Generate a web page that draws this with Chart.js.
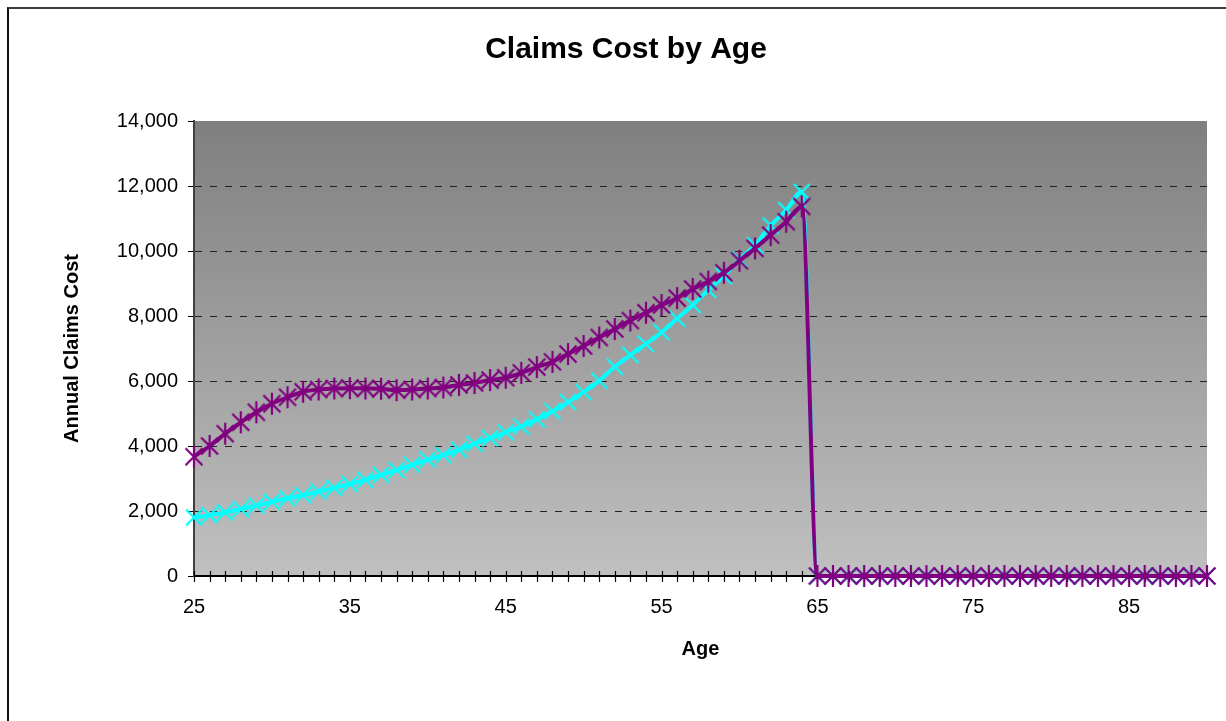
<!DOCTYPE html>
<html>
<head>
<meta charset="utf-8">
<script src="https://cdn.jsdelivr.net/npm/chart.js@4/dist/chart.umd.min.js"></script>
<style>
  html, body { margin: 0; padding: 0; background: #fff; overflow: hidden; }
  #wrap { position: relative; width: 1226px; height: 721px; overflow: hidden; }
  #frame { position: absolute; left: 7px; top: 7px; width: 1400px; height: 900px;
           border-top: 2px solid #3a3a3a; border-left: 2px solid #111; }
  canvas { position: absolute; left: 0; top: 0; }
</style>
</head>
<body>
<div id="wrap">
  <div id="frame"></div>
  <canvas id="c" width="1252" height="721"></canvas>
</div>
<script>
// ---- data ----
const ages = [];
for (let a = 25; a <= 90; a++) ages.push(String(a));

const purpleCost = [
  3670, 4000, 4380, 4730, 5040, 5300, 5500, 5670, 5740, 5770, // 25-34
  5780, 5770, 5760, 5720, 5740, 5770, 5800, 5880, 5940, 6030, // 35-44
  6100, 6250, 6430, 6590, 6830, 7080, 7340, 7600, 7860, 8100, // 45-54
  8340, 8550, 8830, 9060, 9330, 9700, 10080, 10490, 10900, 11370, // 55-64
  0, 0, 0, 0, 0, 0, 0, 0, 0, 0, // 65-74
  0, 0, 0, 0, 0, 0, 0, 0, 0, 0, // 75-84
  0, 0, 0, 0, 0, 0              // 85-90
];
const cyanCost = [
  1800, 1870, 1960, 2060, 2170, 2280, 2390, 2490, 2600, 2710, // 25-34
  2830, 2960, 3110, 3260, 3420, 3580, 3720, 3890, 4070, 4240, // 35-44
  4420, 4600, 4820, 5070, 5350, 5660, 6010, 6440, 6800, 7140, // 45-54
  7500, 7920, 8340, 8800, 9230, 9740, 10180, 10780, 11260, 11820, // 55-64
  0, 0, 0, 0, 0, 0, 0, 0, 0, 0,
  0, 0, 0, 0, 0, 0, 0, 0, 0, 0,
  0, 0, 0, 0, 0, 0
];
const yTicks = [0, 2000, 4000, 6000, 8000, 10000, 12000, 14000];
const xLabelEvery = 10;

// ---- marker glyphs ----
function glyph(color, kind) {
  const s = 26, c = s / 2;
  const cv = document.createElement('canvas');
  cv.width = s; cv.height = s;
  const g = cv.getContext('2d');
  g.strokeStyle = color; g.lineWidth = 2.2; g.lineCap = 'butt';
  const d = kind === 'star' ? 8.5 : 8;
  g.beginPath();
  g.moveTo(c - d, c - d); g.lineTo(c + d, c + d);
  g.moveTo(c + d, c - d); g.lineTo(c - d, c + d);
  if (kind === 'star') { g.moveTo(c, c - 11); g.lineTo(c, c + 11); }
  g.stroke();
  return cv;
}
const purpleMark = glyph('#800080', 'star');
const cyanMark = glyph('#00FFFF', 'x');

const FONT = "'Liberation Sans', Arial, Helvetica, sans-serif";
Chart.defaults.font.family = FONT;
Chart.defaults.color = '#000';

const bgPlugin = {
  id: 'plotBg',
  beforeDraw(chart) {
    const {ctx, chartArea: a} = chart;
    const gr = ctx.createLinearGradient(0, a.top, 0, a.bottom);
    gr.addColorStop(0, '#7F7F7F');
    gr.addColorStop(1, '#C0C0C0');
    ctx.save();
    ctx.fillStyle = gr;
    ctx.fillRect(a.left, a.top, a.right - a.left, a.bottom - a.top);
    ctx.restore();
  }
};
const xTickPlugin = {
  id: 'xCrossTicks',
  beforeDatasetsDraw(chart) {
    const xs = chart.scales.x, ctx = chart.ctx;
    const y = chart.chartArea.bottom;
    ctx.save();
    ctx.strokeStyle = '#000';
    ctx.lineWidth = 1.2;
    ctx.beginPath();
    for (let i = 0; i < xs.ticks.length; i++) {
      const px = Math.round(xs.getPixelForTick(i)) + 0.5;
      ctx.moveTo(px, y - 5); ctx.lineTo(px, y + 6);
    }
    ctx.stroke();
    ctx.restore();
  }
};

new Chart(document.getElementById('c'), {
  type: 'line',
  data: {
    labels: ages,
    datasets: [
      {
        label: 'Female',
        data: purpleCost,
        borderColor: '#800080',
        borderWidth: 4,
        pointStyle: purpleMark,
        pointRadius: 9,
        cubicInterpolationMode: 'monotone',
        clip: false
      },
      {
        label: 'Male',
        data: cyanCost,
        borderColor: '#00FFFF',
        borderWidth: 4,
        pointStyle: cyanMark,
        pointRadius: 9,
        cubicInterpolationMode: 'monotone',
        clip: false
      }
    ]
  },
  options: {
    responsive: false,
    animation: false,
    events: [],
    layout: { padding: { left: 45, right: 45, top: 0, bottom: 0 } },
    plugins: {
      legend: { display: false },
      tooltip: { enabled: false },
      title: {
        display: true,
        text: 'Claims Cost by Age',
        color: '#000',
        font: { size: 30, weight: 'bold', family: FONT },
        padding: { top: 32, bottom: 53 }
      }
    },
    scales: {
      x: {
        type: 'category',
        offset: false,
        grid: { display: true, drawOnChartArea: false, drawTicks: false },
        border: { display: true, color: '#000', width: 2 },
        ticks: {
          autoSkip: false,
          maxRotation: 0,
          padding: 19,
          color: '#000',
          font: { size: 20, family: FONT },
          callback(v, i) { const a = Number(ages[i]); return (a - 25) % xLabelEvery === 0 ? ages[i] : ''; }
        },
        title: {
          display: true, text: 'Age', color: '#000',
          font: { size: 20, weight: 'bold', family: FONT },
          padding: { top: 0, bottom: 60 }
        },
        afterFit(s) { s.height = 145; }
      },
      y: {
        min: 0, max: 14000,
        afterBuildTicks(s) { s.ticks = yTicks.map(v => ({ value: v })); },
        grid: {
          color(ctx) { const v = ctx.tick && ctx.tick.value; return (v === 0 || v === 14000) ? 'rgba(0,0,0,0)' : '#222'; },
          lineWidth: 1,
          drawTicks: true,
          tickLength: 6,
          tickColor: '#000',
          tickBorderDash: []
        },
        border: { display: true, color: '#404040', width: 2, dash: [7, 8] },
        ticks: {
          padding: 10,
          color: '#000',
          font: { size: 20, family: FONT },
          callback(v) { return Number(v).toLocaleString('en-US'); }
        },
        title: {
          display: true, text: 'Annual Claims Cost', color: '#000',
          font: { size: 20, weight: 'bold', family: FONT },
          padding: { top: 15, bottom: 0 }
        },
        afterFit(s) { s.width = 149; }
      }
    }
  },
  plugins: [bgPlugin, xTickPlugin]
});
</script>
</body>
</html>
